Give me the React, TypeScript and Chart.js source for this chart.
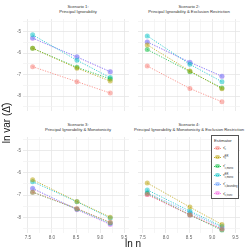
import React, { useEffect, useRef } from "react";
import { Chart, registerables } from "chart.js";

Chart.register(...registerables);

const X_VALUES = [7.6, 8.52, 9.21];
const X_TICKS = [7.5, 7.75, 8.0, 8.25, 8.5, 8.75, 9.0, 9.25, 9.5];
const Y_TICKS = [-4.5, -5, -5.5, -6, -6.5, -7, -7.5, -8, -8.5];

const ESTIMATOR_SUBS = ["c", "c", "c,mono", "c,mono", "c,bounding", "c,trunc"];
const ESTIMATOR_SUPS = ["", "ER", "", "ER", "", ""];
const COLORS = ["#F8766D", "#B79F00", "#00BA38", "#00BFC4", "#619CFF", "#F564E3"];

// rows: estimators, columns: X_VALUES
const scenario1 = [
  [-6.63, -7.33, -7.86],
  [-5.77, -6.7, -7.3],
  [-5.77, -6.66, -7.2],
  [-5.14, -6.33, -7.14],
  [-5.29, -6.17, -6.86],
  [-5.3, -6.18, -6.87],
];
const scenario2 = [
  [-6.6, -7.65, -8.27],
  [-5.61, -6.83, -7.66],
  [-5.83, -6.86, -7.62],
  [-5.19, -6.52, -7.33],
  [-5.47, -6.42, -7.07],
  [-5.48, -6.43, -7.08],
];
const scenario3 = [
  [-6.87, -7.6, -8.22],
  [-6.31, -7.29, -7.99],
  [-6.87, -7.62, -8.24],
  [-6.4, -7.3, -8.03],
  [-6.7, -7.64, -8.29],
  [-6.72, -7.66, -8.32],
];
const scenario4 = [
  [-6.97, -7.88, -8.52],
  [-6.46, -7.54, -8.32],
  [-6.93, -7.89, -8.57],
  [-6.77, -7.72, -8.4],
  [-6.9, -7.79, -8.46],
  [-6.98, -7.9, -8.53],
];

const TITLES = [
  ["Scenario 1:", "Principal Ignorability"],
  ["Scenario 2:", "Principal Ignorability & Exclusion Restriction"],
  ["Scenario 3:", "Principal Ignorability & Monotonicity"],
  ["Scenario 4:", "Principal Ignorability & Monotonicity & Exclusion Restriction"],
];

const FONT = "'Liberation Sans', Arial, sans-serif";

function rgba(hex: string, a: number) {
  const n = parseInt(hex.slice(1), 16);
  return `rgba(${(n >> 16) & 255},${(n >> 8) & 255},${n & 255},${a})`;
}

type PanelProps = {
  data: number[][];
  showX: boolean;
  showY: boolean;
  left: number;
  top: number;
  yAxisWidth: number;
  xAxisHeight: number;
};

const PLOT_W = 110;
const PLOT_H = 100;

function Panel({ data, showX, showY, left, top, yAxisWidth, xAxisHeight }: PanelProps) {
  const ref = useRef<HTMLCanvasElement>(null);
  const width = PLOT_W + yAxisWidth;
  const height = PLOT_H + xAxisHeight;
  useEffect(() => {
    if (!ref.current) return;
    const chart = new Chart(ref.current, {
      type: "line",
      data: {
        datasets: COLORS.map((c, i) => ({
          label: `est${i}`,
          data: X_VALUES.map((x, j) => ({ x, y: data[i][j] })),
          borderColor: rgba(c, 0.75),
          backgroundColor: rgba(c, 0.5),
          pointBackgroundColor: rgba(c, 0.5),
          pointBorderColor: rgba(c, 0.5),
          pointBorderWidth: 0,
          pointRadius: 2.5,
          borderWidth: 1,
          borderDash: [1.2, 1.4],
          fill: false,
          tension: 0,
        })),
      },
      options: {
        responsive: false,
        animation: false,
        events: [],
        layout: { padding: 0 },
        plugins: { legend: { display: false }, tooltip: { enabled: false }, title: { display: false } },
        scales: {
          x: {
            type: "linear",
            min: 7.4,
            max: 9.6,
            afterBuildTicks: (s: any) => {
              s.ticks = X_TICKS.map((v) => ({ value: v }));
            },
            afterFit: (s: any) => {
              s.height = xAxisHeight;
              s.paddingLeft = 0;
              s.paddingRight = 0;
            },
            ticks: {
              display: showX,
              autoSkip: false,
              maxRotation: 0,
              padding: 2,
              color: "#666",
              font: { size: 4.6, family: FONT },
              callback: (v: any) => (Math.abs(v * 2 - Math.round(v * 2)) < 1e-6 ? Number(v).toFixed(1) : ""),
            },
            grid: {
              drawTicks: false,
              color: (ctx: any) =>
                Math.abs(ctx.tick.value * 2 - Math.round(ctx.tick.value * 2)) < 1e-6 ? "#e6e6e6" : "#f3f3f3",
              lineWidth: 0.8,
            },
            border: { display: false },
          },
          y: {
            type: "linear",
            min: -8.7,
            max: -4.4,
            afterBuildTicks: (s: any) => {
              s.ticks = Y_TICKS.map((v) => ({ value: v }));
            },
            afterFit: (s: any) => {
              s.width = yAxisWidth;
              s.paddingTop = 0;
              s.paddingBottom = 0;
            },
            ticks: {
              display: showY,
              autoSkip: false,
              padding: 2,
              color: "#666",
              font: { size: 4.6, family: FONT },
              callback: (v: any) => (Math.abs(v - Math.round(v)) < 1e-6 ? String(Math.round(v)) : ""),
            },
            grid: {
              drawTicks: false,
              color: (ctx: any) =>
                Math.abs(ctx.tick.value - Math.round(ctx.tick.value)) < 1e-6 ? "#e6e6e6" : "#f3f3f3",
              lineWidth: 0.8,
            },
            border: { display: false },
          },
        },
      },
    } as any);
    return () => chart.destroy();
  }, []);
  return (
    <canvas
      ref={ref}
      width={width}
      height={height}
      style={{ position: "absolute", left, top, width, height }}
    />
  );
}

function Title({ lines, cx, top }: { lines: string[]; cx: number; top: number }) {
  return (
    <div
      style={{
        position: "absolute",
        left: cx - 100,
        width: 200,
        top,
        textAlign: "center",
        fontFamily: FONT,
        fontSize: 4.2,
        lineHeight: "5px",
        color: "#333",
        whiteSpace: "nowrap",
      }}
    >
      {lines.map((l, i) => (
        <div key={i}>{l}</div>
      ))}
    </div>
  );
}

function Legend() {
  return (
    <div
      style={{
        position: "absolute",
        left: 211,
        top: 135,
        width: 26,
        height: 62,
        border: "1px solid #555",
        background: "#fff",
        fontFamily: FONT,
        color: "#333",
      }}
    >
      <div style={{ position: "absolute", left: 2, top: 1.5, fontSize: 4.2, lineHeight: "5px" }}>Estimator</div>
      {COLORS.map((c, i) => (
        <div key={i} style={{ position: "absolute", left: 0, top: 9 + i * 9.1, height: 6, width: 26 }}>
          <div
            style={{
              position: "absolute",
              left: 2,
              top: 2.5,
              width: 7,
              height: 0,
              borderTop: `1px dotted ${rgba(c, 0.8)}`,
            }}
          />
          <div
            style={{
              position: "absolute",
              left: 3.4,
              top: 0.8,
              width: 4.2,
              height: 4.2,
              borderRadius: "50%",
              background: rgba(c, 0.5),
            }}
          />
          <div
            style={{
              position: "absolute",
              left: 11,
              top: 0,
              fontSize: 4.2,
              lineHeight: "5px",
              whiteSpace: "nowrap",
            }}
          >
            τ̂
            <span style={{ position: "relative", display: "inline-block", fontSize: 2.6 }}>
              <span style={{ position: "absolute", left: 0, top: -1.5 }}>{ESTIMATOR_SUPS[i]}</span>
              <span style={{ position: "relative", top: 1.4 }}>{ESTIMATOR_SUBS[i]}</span>
            </span>
          </div>
        </div>
      ))}
    </div>
  );
}

export default function App() {
  return (
    <div
      style={{
        position: "fixed",
        left: 0,
        top: 0,
        width: 249,
        height: 249,
        background: "#fff",
        overflow: "hidden",
      }}
    >
      <Panel data={scenario1} showX={false} showY={true} left={10} top={15} yAxisWidth={13} xAxisHeight={0} />
      <Panel data={scenario2} showX={false} showY={false} left={134} top={15} yAxisWidth={0} xAxisHeight={0} />
      <Panel data={scenario3} showX={true} showY={true} left={10} top={133} yAxisWidth={13} xAxisHeight={10} />
      <Panel data={scenario4} showX={true} showY={false} left={134} top={133} yAxisWidth={0} xAxisHeight={10} />
      <Title lines={TITLES[0]} cx={78} top={3.5} />
      <Title lines={TITLES[1]} cx={189} top={3.5} />
      <Title lines={TITLES[2]} cx={78} top={121.5} />
      <Title lines={TITLES[3]} cx={189} top={121.5} />
      <Legend />
      <div
        style={{
          position: "absolute",
          left: 7 - 40,
          top: 123 - 6,
          width: 80,
          height: 12,
          transform: "rotate(-90deg)",
          textAlign: "center",
          fontFamily: FONT,
          fontSize: 10,
          lineHeight: "12px",
          color: "#111",
          whiteSpace: "nowrap",
        }}
      >
        ln var (Δ̂)
      </div>
      <div
        style={{
          position: "absolute",
          left: 133 - 30,
          top: 238,
          width: 60,
          textAlign: "center",
          fontFamily: FONT,
          fontSize: 10,
          lineHeight: "12px",
          color: "#111",
        }}
      >
        ln n
      </div>
    </div>
  );
}
